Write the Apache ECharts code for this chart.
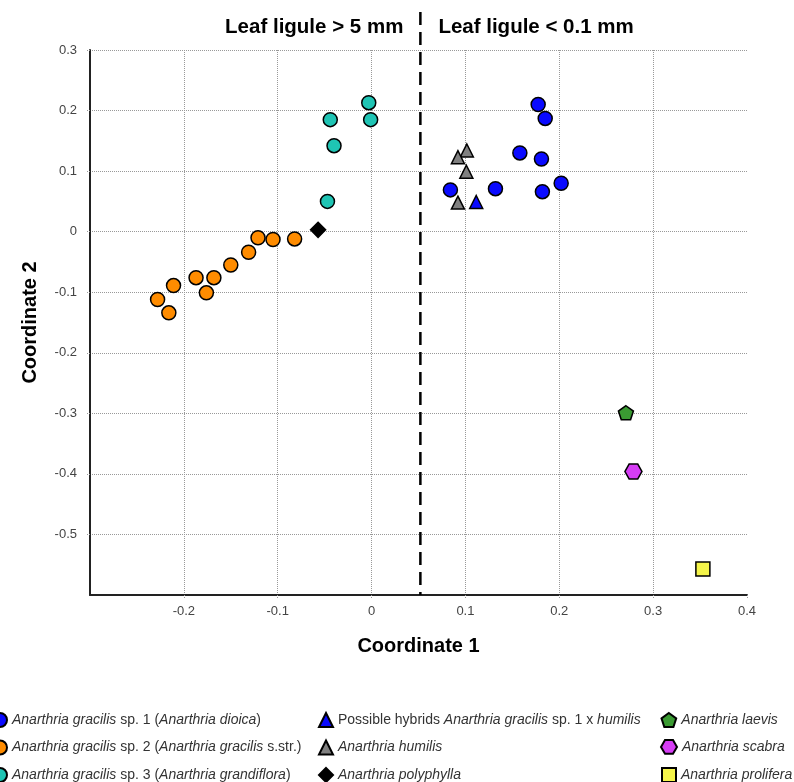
<!DOCTYPE html>
<html>
<head>
<meta charset="utf-8">
<script src="https://cdn.jsdelivr.net/npm/echarts@6/dist/echarts.min.js"></script>
<style>
  html, body { margin: 0; padding: 0; background: #fff; }
  #main { width: 794px; height: 782px; }
</style>
</head>
<body>
<div id="main"></div>
<script>
// point coordinates [coordinate 1, coordinate 2]
var sp1Dioica = [[0.1775, 0.210], [0.185, 0.187], [0.158, 0.130], [0.181, 0.120],
    [0.202, 0.080], [0.182, 0.066], [0.132, 0.071], [0.084, 0.069]];
var sp2Gracilis = [[-0.082, -0.012], [-0.105, -0.013], [-0.121, -0.010], [-0.131, -0.034],
    [-0.150, -0.055], [-0.168, -0.076], [-0.187, -0.076], [-0.176, -0.101],
    [-0.211, -0.089], [-0.228, -0.112], [-0.216, -0.134]];
var sp3Grandiflora = [[-0.003, 0.213], [-0.001, 0.185], [-0.044, 0.185], [-0.040, 0.142], [-0.047, 0.050]];
var hybrids = [[0.1115, 0.049]];
var humilis = [[0.1015, 0.134], [0.092, 0.123], [0.101, 0.099], [0.092, 0.048]];
var polyphylla = [[-0.057, 0.003]];
var laevis = [[0.271, -0.299]];
var scabra = [[0.279, -0.396]];
var prolifera = [[0.353, -0.557]];

// separator between ligule groups (coordinate 1)
var ligulesSplit = 0.052;

var seriesNames = [
    'Anarthria gracilis sp. 1 (Anarthria dioica)',
    'Anarthria gracilis sp. 2 (Anarthria gracilis s.str.)',
    'Anarthria gracilis sp. 3 (Anarthria grandiflora)',
    'Possible hybrids Anarthria gracilis sp. 1 x humilis',
    'Anarthria humilis',
    'Anarthria polyphylla',
    'Anarthria laevis',
    'Anarthria scabra',
    'Anarthria prolifera'
];
// rich-text versions for the legend (italic species names)
var legendLabels = [
    '{i|Anarthria gracilis} sp. 1 ({i|Anarthria dioica})',
    '{i|Anarthria gracilis} sp. 2 ({i|Anarthria gracilis} s.str.)',
    '{i|Anarthria gracilis} sp. 3 ({i|Anarthria grandiflora})',
    'Possible hybrids {i|Anarthria gracilis} sp. 1 x {i|humilis}',
    '{i|Anarthria humilis}',
    '{i|Anarthria polyphylla}',
    '{i|Anarthria laevis}',
    '{i|Anarthria scabra}',
    '{i|Anarthria prolifera}'
];

var pentagon = 'path://M0,-10 L9.51,-3.09 L5.88,8.09 L-5.88,8.09 L-9.51,-3.09 Z';
var hexagon = 'path://M-10,0 L-5,-8.66 L5,-8.66 L10,0 L5,8.66 L-5,8.66 Z';

var fontFam = 'Helvetica, Arial, "Liberation Sans", sans-serif';

function makeSeries(name, data, color, symbol, size) {
    return {
        name: name,
        type: 'scatter',
        data: data,
        symbol: symbol,
        symbolSize: size,
        itemStyle: { color: color, borderColor: '#000', borderWidth: 1.5, opacity: 1 },
        emphasis: { disabled: true }
    };
}

// one legend per entry so the 3x3 block sits exactly
var legendCols = [-8, 318, 661];
var legendRows = [712, 739.5, 767];
var iconW = [14, 14, 14, 14, 14, 14, 15, 16, 14];
var iconH = [14, 14, 14, 14, 14, 14, 14, 15, 14];
var legends = seriesNames.map(function (n, k) {
    return {
        data: [n],
        left: legendCols[Math.floor(k / 3)] - (iconW[k] - 14) / 2,
        top: legendRows[k % 3] - (iconH[k] - 14) / 2,
        padding: 0,
        itemWidth: iconW[k],
        itemHeight: iconH[k],
        itemGap: 4,
        selectedMode: false,
        formatter: function () { return legendLabels[k]; },
        textStyle: {
            fontFamily: fontFam, fontSize: 14, color: '#333',
            rich: { i: { fontFamily: fontFam, fontSize: 14, color: '#333', fontStyle: 'italic' } }
        }
    };
});

var gridTick = { show: true, length: 4, lineStyle: { type: 'dotted', color: '#999', width: 1 } };

var myChart = echarts.init(document.getElementById('main'));
var option = {
    animation: false,
    textStyle: { fontFamily: fontFam },
    grid: { left: 90, right: 47, top: 50, bottom: 187 },
    legend: legends,
    xAxis: {
        type: 'value',
        min: -0.3, max: 0.4, interval: 0.1,
        name: 'Coordinate 1',
        nameLocation: 'middle',
        nameGap: 41,
        nameTextStyle: { fontFamily: fontFam, fontSize: 20, fontWeight: 'bold', color: '#000' },
        axisLine: { onZero: false, lineStyle: { color: '#222', width: 2 } },
        axisTick: gridTick,
        axisLabel: { showMinLabel: false, color: '#444', fontSize: 13, margin: 10 },
        splitLine: { show: true, showMaxLine: false, lineStyle: { type: 'dotted', color: '#999', width: 1 } }
    },
    yAxis: {
        type: 'value',
        min: -0.6, max: 0.3, interval: 0.1,
        name: 'Coordinate 2',
        nameLocation: 'middle',
        nameGap: 50,
        nameTextStyle: { fontFamily: fontFam, fontSize: 20, fontWeight: 'bold', color: '#000' },
        axisLine: { show: true, onZero: false, lineStyle: { color: '#222', width: 2 } },
        axisTick: gridTick,
        axisLabel: { showMinLabel: false, color: '#444', fontSize: 13, margin: 13 },
        splitLine: { show: true, lineStyle: { type: 'dotted', color: '#999', width: 1 } }
    },
    series: [
        makeSeries(seriesNames[0], sp1Dioica, '#0a0aff', 'circle', 14),
        makeSeries(seriesNames[1], sp2Gracilis, '#ff8c00', 'circle', 14),
        makeSeries(seriesNames[2], sp3Grandiflora, '#1fc4b4', 'circle', 14),
        makeSeries(seriesNames[3], hybrids, '#0a0aff', 'triangle', 13),
        makeSeries(seriesNames[4], humilis, '#808080', 'triangle', 13),
        makeSeries(seriesNames[5], polyphylla, '#000000', 'diamond', 15),
        makeSeries(seriesNames[6], laevis, '#3a9a32', pentagon, [15, 14]),
        makeSeries(seriesNames[7], scabra, '#d63df5', hexagon, [17, 15]),
        makeSeries(seriesNames[8], prolifera, '#f5f54a', 'rect', 14)
    ]
};
myChart.setOption(option);

// dashed separator, extended above the plot area into the header
var splitX = myChart.convertToPixel({ gridIndex: 0 }, [ligulesSplit, 0])[0];
var bottomY = myChart.convertToPixel({ gridIndex: 0 }, [0, -0.6])[1];
myChart.setOption({
    graphic: [
        {
            type: 'line',
            shape: { x1: splitX, y1: 12, x2: splitX, y2: bottomY },
            style: { stroke: '#000', lineWidth: 2.5, lineDash: [13, 7] },
            z: 10
        },
        {
            type: 'text',
            x: splitX - 17, y: 27,
            style: {
                text: 'Leaf ligule > 5 mm', align: 'right', verticalAlign: 'middle',
                font: 'bold 20.5px ' + fontFam, fill: '#000'
            }
        },
        {
            type: 'text',
            x: splitX + 18, y: 27,
            style: {
                text: 'Leaf ligule < 0.1 mm', align: 'left', verticalAlign: 'middle',
                font: 'bold 20.5px ' + fontFam, fill: '#000'
            }
        }
    ]
});
</script>
</body>
</html>
